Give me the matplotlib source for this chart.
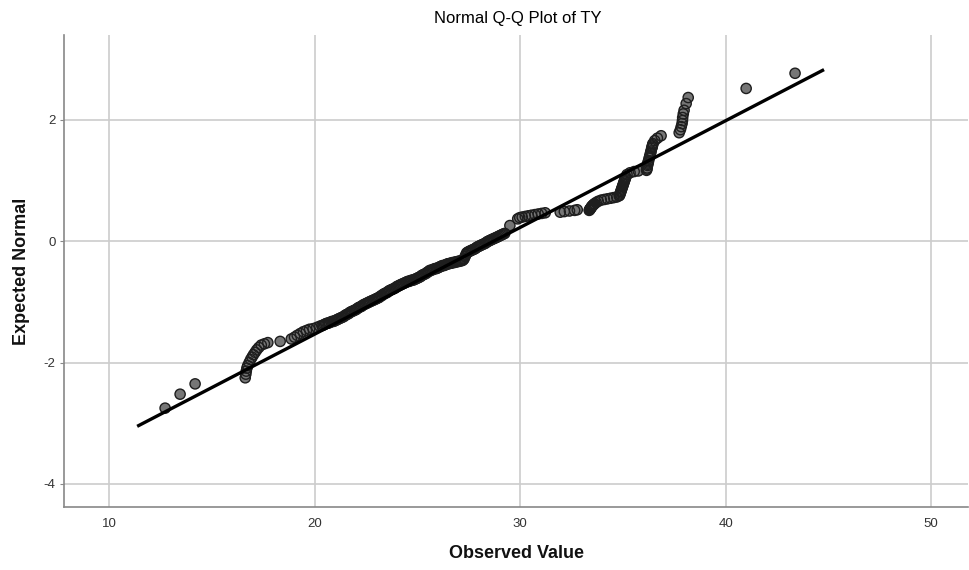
import matplotlib
matplotlib.use("Agg")
import matplotlib.pyplot as plt
import numpy as np

# ---- data ----
observed = [
    12.72, 13.45, 14.18,
    16.62, 16.65, 16.67, 16.70, 16.74, 16.81, 16.88, 16.95, 17.02, 17.10, 17.18, 17.28, 17.40, 17.55, 17.72,
    18.32, 18.86, 19.02, 19.15, 19.30, 19.45, 19.60, 19.75, 19.92, 20.10, 20.25,
    20.35, 20.48, 20.60, 20.72, 20.85, 20.98, 21.10, 21.22, 21.35, 21.48, 21.60, 21.72, 21.85, 21.98,
    22.10, 22.22, 22.35, 22.48, 22.60, 22.72, 22.85, 22.98, 23.10, 23.22, 23.35, 23.48, 23.60, 23.72,
    23.85, 23.98, 24.10, 24.22, 24.35, 24.48, 24.60, 24.72, 24.85, 24.98, 25.10, 25.22, 25.35, 25.48,
    25.60, 25.72, 25.85, 25.98, 26.10, 26.22, 26.35, 26.48, 26.60, 26.72, 26.85, 26.98, 27.10, 27.22,
    27.32, 27.40, 27.50, 27.62, 27.75, 27.88, 28.00, 28.12, 28.25, 28.38, 28.50, 28.62, 28.75, 28.88,
    29.00, 29.12, 29.25, 29.50,
    29.88, 29.98, 30.10, 30.25, 30.40, 30.55, 30.72, 30.88, 31.05, 31.22, 31.95, 32.15, 32.40, 32.65, 32.78,
    33.36, 33.38, 33.42, 33.46, 33.50, 33.56, 33.62, 33.70, 33.80, 33.95, 34.10, 34.25, 34.40, 34.55, 34.70,
    34.82, 34.86, 34.90, 34.94, 34.98, 35.02, 35.06, 35.10, 35.14, 35.20, 35.35, 35.55, 35.75,
    36.15, 36.18, 36.20, 36.22, 36.25, 36.28, 36.31, 36.34, 36.37, 36.40, 36.43, 36.46, 36.55, 36.68, 36.86,
    37.74, 37.80, 37.84, 37.88, 37.90, 37.91, 37.94, 37.98, 38.08, 38.18,
    41.00, 43.38,
]
expected = [
    -2.75, -2.52, -2.35,
    -2.25, -2.19, -2.14, -2.09, -2.05, -2.00, -1.95, -1.91, -1.87, -1.83, -1.79, -1.75, -1.71, -1.69, -1.67,
    -1.65, -1.61, -1.58, -1.55, -1.52, -1.49, -1.47, -1.45, -1.44, -1.42, -1.40,
    -1.39, -1.37, -1.35, -1.34, -1.32, -1.31, -1.29, -1.27, -1.25, -1.22, -1.20, -1.17, -1.15, -1.13,
    -1.10, -1.08, -1.05, -1.03, -1.01, -0.99, -0.97, -0.95, -0.93, -0.90, -0.87, -0.85, -0.82, -0.80,
    -0.78, -0.75, -0.73, -0.71, -0.69, -0.67, -0.66, -0.64, -0.63, -0.61, -0.59, -0.56, -0.54, -0.51,
    -0.48, -0.47, -0.45, -0.44, -0.42, -0.40, -0.39, -0.37, -0.36, -0.35, -0.34, -0.33, -0.32, -0.31,
    -0.25, -0.19, -0.17, -0.15, -0.13, -0.10, -0.08, -0.06, -0.04, -0.01, 0.01, 0.03, 0.05, 0.07,
    0.09, 0.11, 0.13, 0.26,
    0.37, 0.39, 0.40, 0.41, 0.42, 0.43, 0.44, 0.45, 0.46, 0.47, 0.48, 0.49, 0.50, 0.51, 0.52,
    0.51, 0.52, 0.54, 0.56, 0.58, 0.60, 0.62, 0.64, 0.66, 0.68, 0.69, 0.70, 0.71, 0.72, 0.73,
    0.75, 0.78, 0.82, 0.86, 0.90, 0.94, 0.98, 1.02, 1.06, 1.10, 1.13, 1.15, 1.16,
    1.17, 1.21, 1.25, 1.29, 1.33, 1.37, 1.41, 1.45, 1.49, 1.53, 1.57, 1.61, 1.66, 1.70, 1.74,
    1.79, 1.84, 1.89, 1.94, 1.99, 2.04, 2.10, 2.16, 2.27, 2.37,
    2.52, 2.77,
]
# additional cases read from the densest (near-black) stretches of the band
observed_dense = [
    20.42, 20.54, 20.66, 20.79, 20.92, 21.04, 21.16, 21.29, 21.42, 21.54, 21.66, 21.79, 21.92,
    22.04, 22.16, 22.29, 22.42, 22.54, 22.66, 22.79, 22.92, 23.04, 23.16, 23.29, 23.42, 23.54,
    23.66, 23.79, 23.92, 24.04, 24.16, 24.29, 24.42, 24.54, 24.66, 24.79, 24.92, 25.04, 25.16,
    25.29, 25.42, 25.54, 25.66, 25.79, 25.92, 26.04, 26.16, 26.29, 26.42, 26.54, 26.66, 26.79,
    26.92, 27.04, 27.16, 27.27, 27.36, 27.45, 27.56, 27.69, 27.82, 27.94, 28.06, 28.19, 28.32,
    28.44, 28.56, 28.69, 28.82, 28.94, 29.06, 29.18,
    33.40, 33.44, 33.48, 33.53, 33.59,
    34.84, 34.88, 34.92, 34.96, 35.00, 35.04, 35.08, 35.12,
    36.17, 36.21, 36.24, 36.30, 36.36, 36.42, 36.45,
]
expected_dense = [
    -1.38, -1.36, -1.35, -1.33, -1.32, -1.30, -1.28, -1.26, -1.24, -1.21, -1.19, -1.16, -1.14,
    -1.12, -1.09, -1.07, -1.04, -1.02, -1.00, -0.98, -0.96, -0.94, -0.92, -0.89, -0.86, -0.84,
    -0.81, -0.79, -0.77, -0.74, -0.72, -0.70, -0.68, -0.66, -0.65, -0.64, -0.62, -0.60, -0.58,
    -0.55, -0.53, -0.50, -0.48, -0.46, -0.45, -0.43, -0.41, -0.40, -0.38, -0.37, -0.36, -0.35,
    -0.34, -0.33, -0.32, -0.29, -0.22, -0.18, -0.16, -0.14, -0.12, -0.09, -0.07, -0.05, -0.03,
    0.00, 0.02, 0.04, 0.06, 0.08, 0.10, 0.12,
    0.53, 0.55, 0.57, 0.59, 0.61,
    0.76, 0.80, 0.84, 0.88, 0.92, 0.96, 1.00, 1.04,
    1.19, 1.27, 1.31, 1.39, 1.47, 1.55, 1.59,
]
line_mean = 28.70
line_sd = 5.685
line_x = [11.36, 44.79]

x_ticks = [10, 20, 30, 40, 50]
y_ticks = [-4, -2, 0, 2]

title = "Normal Q-Q Plot of TY"
x_label = "Observed Value"
y_label = "Expected Normal"

# ---- drawing ----
plt.rcParams['font.family'] = ['Liberation Sans', 'DejaVu Sans']
plt.rcParams['axes.unicode_minus'] = False

fig = plt.figure(figsize=(9.7, 5.7), dpi=100)
ax = fig.add_axes([0.066, 0.1105, 0.932, 0.828])

ax.set_xlim(7.8, 51.8)
ax.set_ylim(-4.38, 3.40)

ax.set_xticks(x_ticks)
ax.set_yticks(y_ticks)
ax.grid(True, color='#cccccc', linewidth=1.2)
ax.set_axisbelow(True)

for s in ['top', 'right']:
    ax.spines[s].set_visible(False)
for s in ['left', 'bottom']:
    ax.spines[s].set_color('#888888')
    ax.spines[s].set_linewidth(1.2)

ax.tick_params(axis='x', length=0, pad=8, labelsize=9.5, labelcolor='#333333')
ax.tick_params(axis='y', length=3, color='#888888', pad=3, labelsize=9.5, labelcolor='#333333')

all_x = list(observed) + list(observed_dense)
all_y = list(expected) + list(expected_dense)
# fills first, outlines afterwards (outlines stay visible where markers overlap)
ax.scatter(all_x, all_y, s=54, facecolor='#767676', edgecolor='none', zorder=3)
ax.scatter(all_x, all_y, s=54, facecolor='none', edgecolor='#1e1e1e',
           linewidths=1.0, zorder=3.1)

lx = np.array(line_x)
ax.plot(lx, (lx - line_mean) / line_sd, color='black', linewidth=2.4, zorder=4,
        solid_capstyle='butt')

fig.text(0.534, 0.968, title, ha='center', va='center', fontsize=12, color='#000000')
ax.set_xlabel(x_label, fontsize=13, fontweight='bold', labelpad=11, color='#111111')
ax.set_ylabel(y_label, fontsize=13, fontweight='bold', labelpad=10, color='#111111')

fig.savefig('out.png', dpi=100, facecolor='white')
